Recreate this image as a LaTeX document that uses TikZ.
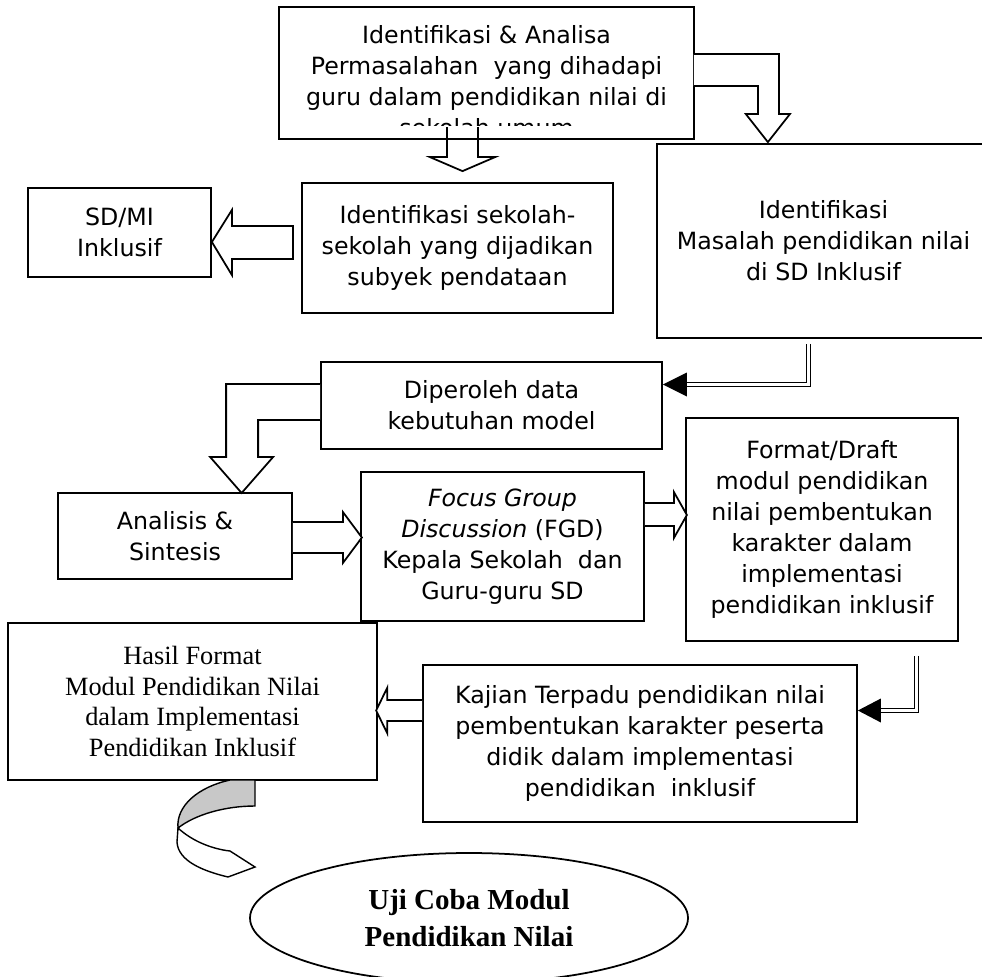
\documentclass[tikz,border=0pt]{standalone}
\usepackage{fontspec}
\setmainfont{DejaVu Sans}
\newfontfamily\timesfont{Liberation Serif}
\usetikzlibrary{shapes.geometric,calc}
\newlength\pxu
\setlength\pxu{0.02cm}
\definecolor{ribbongray}{RGB}{200,200,200}
\tikzset{
  box/.style={draw, line width=1pt, fill=white, align=center, inner sep=0pt,
    font=\fontsize{13.5}{17.6}\selectfont},
  blockarrow/.style={draw, line width=1pt, fill=white, line join=miter},
  dbl/.style={draw, double, double distance=1.4pt, line width=0.9pt},
}

\begin{document}
\begin{tikzpicture}[x=0.02cm, y=-0.02cm]
\useasboundingbox (0,0) rectangle (982,976);
\clip (0,0) rectangle (982,976);

% top box, last line cut off
\begin{scope}
  \clip (280,8) rectangle (693,126);
  \node[box, draw=none, minimum width=413\pxu, minimum height=130\pxu] (top) at (486.5,73)
    {\rule{0pt}{19.9pt}Identifikasi \& Analisa\\Permasalahan\ \ yang dihadapi\\guru dalam pendidikan nilai di\\sekolah umum};
\end{scope}

\node[box, minimum width=333\pxu, minimum height=194\pxu] (rb) at (823.5,241)
  {Identifikasi\\Masalah pendidikan nilai\\di SD Inklusif};
\node[box, minimum width=311\pxu, minimum height=130\pxu] (sek) at (457.5,248)
  {Identifikasi sekolah-\\sekolah yang dijadikan\\subyek pendataan};
\node[box, minimum width=183\pxu, minimum height=89\pxu] (sd) at (119.5,232.5)
  {SD/MI\\Inklusif};
\node[box, minimum width=341\pxu, minimum height=87\pxu] (dip) at (491.5,405.5)
  {Diperoleh data\\kebutuhan model};
\node[box, minimum width=234\pxu, minimum height=86\pxu] (ana) at (175,536)
  {Analisis \&\\Sintesis};
\node[box, minimum width=283\pxu, minimum height=149\pxu] (fgd) at (502.5,546.5)
  {\textit{Focus Group}\\\textit{Discussion} (FGD)\\Kepala Sekolah\ \ dan\\Guru-guru SD};
\node[box, minimum width=272\pxu, minimum height=223\pxu] (fmt) at (822,529.5)
  {Format/Draft\\modul pendidikan\\nilai pembentukan\\karakter dalam\\implementasi\\pendidikan inklusif};
\node[box, minimum width=369\pxu, minimum height=157\pxu,
  font=\timesfont\fontsize{15}{17.3}\selectfont] (has) at (192.5,701.5)
  {Hasil Format\\Modul Pendidikan Nilai\\dalam Implementasi\\Pendidikan Inklusif};
\node[box, minimum width=434\pxu, minimum height=157\pxu] (kaj) at (640,743.5)
  {Kajian Terpadu pendidikan nilai\\pembentukan karakter peserta\\didik dalam implementasi\\pendidikan\ \ inklusif};
\node[ellipse, draw, line width=1pt, minimum width=438\pxu, minimum height=130\pxu,
  align=center, inner sep=0pt, font=\timesfont\bfseries\fontsize{16.5}{21}\selectfont] (uji) at (469,918)
  {Uji Coba Modul\\Pendidikan Nilai};

% block arrows
\draw[blockarrow] (sek.north) ++(-10.5,-55) -- ++(0,30) -- ++(-17,0) -- ++(32.5,14)
  -- ++(32.5,-14) -- ++(-17,0) -- ++(0,-30);
\draw[line width=1pt] (top.north west) rectangle (top.south east);
\draw[blockarrow] (top.north east) ++(0,47) -- ++(85,0) -- ++(0,60) -- ++(11,0)
  -- ++(-22,28) -- ++(-22,-28) -- ++(12,0) -- ++(0,-28) -- ++(-64,0);
\draw[blockarrow] (sd.east) ++(0,9.5) -- ++(20,-32) -- ++(0,16) -- ++(61,0)
  -- ++(0,33) -- ++(-61,0) -- ++(0,16) -- cycle;
\draw[blockarrow] (dip.west) ++(0,-21.5) -- ++(-94,0) -- ++(0,73) -- ++(-16,0)
  -- ++(31.5,36) -- ++(31.5,-36) -- ++(-15,0) -- ++(0,-37) -- ++(62,0);
\draw[blockarrow] (ana.east) ++(0,-14) -- ++(50,0) -- ++(0,-10) -- ++(19,25.5)
  -- ++(-19,25.5) -- ++(0,-10) -- ++(-50,0);
\draw[blockarrow] (fgd.east) ++(0,-43.5) -- ++(29,0) -- ++(0,-11) -- ++(13,23)
  -- ++(-13,23) -- ++(0,-12) -- ++(-29,0);
\draw[blockarrow] (kaj.west) ++(0,-43.5) -- ++(-35,0) -- ++(0,-12) -- ++(-11,22.5)
  -- ++(11,22.5) -- ++(0,-12) -- ++(35,0);

% double line arrows
\draw[dbl] (rb.south) ++(-15,5) |- ($(dip.east)+(24,-21)$);
\fill (dip.east) ++(0,-21) -- ++(24,-12) -- ++(0,24) -- cycle;
\draw[dbl] (fmt.south) ++(94.5,14) |- ($(kaj.east)+(23,-33)$);
\fill (kaj.east) ++(0,-33) -- ++(23,-12) -- ++(0,24) -- cycle;

% ribbon
\filldraw[line width=0.8pt, fill=ribbongray] (230,780) .. controls (198,787) and (176,806) .. (178,828)
  .. controls (196,814) and (226,806) .. (255,806) -- (255,780) -- cycle;
\filldraw[line width=0.8pt, fill=white] (178,828) .. controls (192,841) and (212,849) .. (230,851)
  -- (255,867) -- (228,877) .. controls (203,871) and (178,861) .. (177,842) -- cycle;
\end{tikzpicture}
\end{document}
